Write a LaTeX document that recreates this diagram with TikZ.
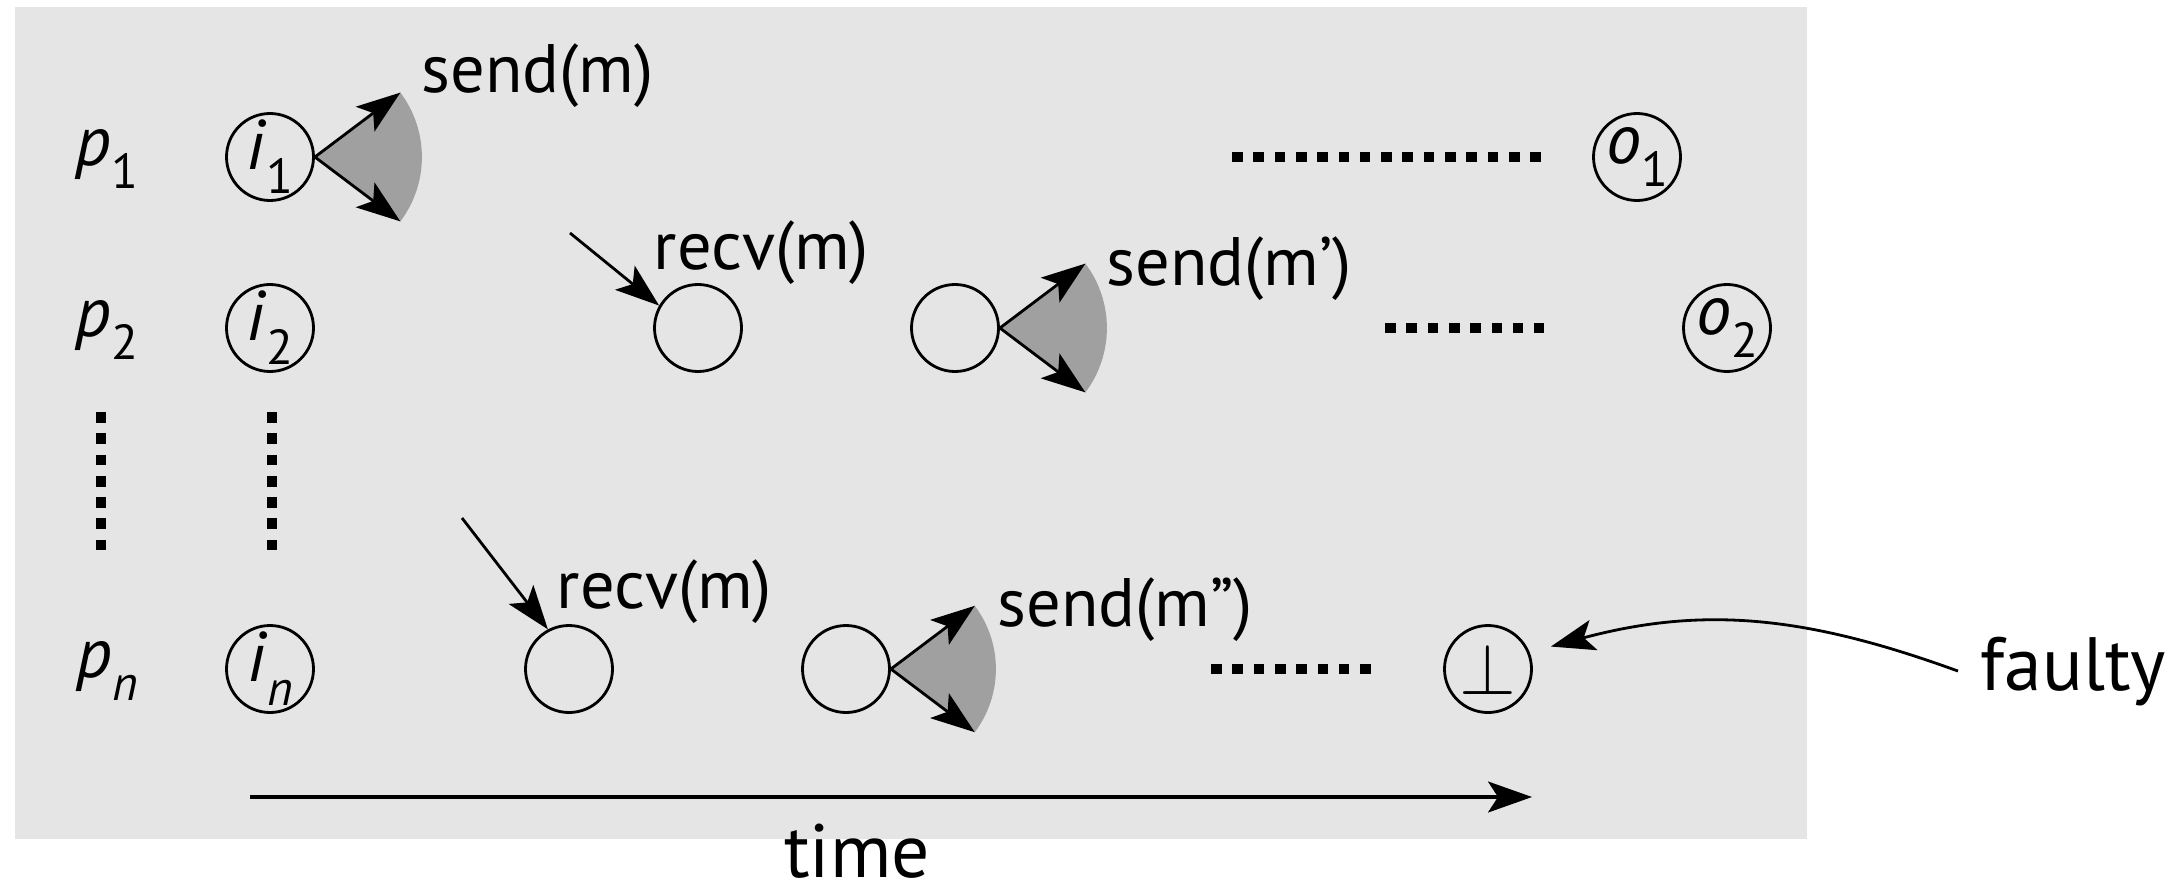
\documentclass[tikz,border=0pt]{standalone}
\usepackage{fontspec}
\setmainfont{PT Sans}
\usetikzlibrary{arrows.meta, positioning, calc}

\definecolor{panelgray}{HTML}{E5E5E5}
\definecolor{wedgegray}{HTML}{A0A0A0}

\newcommand{\procname}[2]{\textit{#1}\raisebox{-0.34em}{\fontsize{14}{14}\selectfont #2}}

\begin{document}
\begin{tikzpicture}[
    ev/.style={draw, circle, line width=0.8pt, minimum size=0.87cm, inner sep=0pt},
    evtext/.style={font=\fontsize{20}{22}\selectfont, inner sep=0pt},
    msg/.style={font=\fontsize{19.5}{22}\selectfont, anchor=base west, inner sep=0pt},
    big/.style={font=\fontsize{21.5}{24}\selectfont, inner sep=0pt},
    arr/.style={-{Stealth[length=0.44cm, width=0.31cm, inset=0.1cm]}, line width=0.8pt},
    dotline/.style={line width=3.1pt, dash pattern=on 3.03pt off 3.03pt},
    wedge/.style={fill=wedgegray}
]

% canvas and grey panel
\useasboundingbox (0,0) rectangle (21.79,-8.86);
\fill[panelgray] (0.15,-0.07) rectangle (18.07,-8.39);

% --- 1. PROCESS NAMES ---
\node[evtext] (p1) at (1.07,-1.59) {\procname{p}{1}};
\node[evtext] (p2) at (1.07,-3.30) {\procname{p}{2}};
\node[evtext] (pn) at (1.07,-6.71) {\procname{p}{\textit{n}}};

% --- 2. EVENTS ---
% inputs
\node[ev, label={[evtext]center:\procname{i}{1}}] (i1) at (2.70,-1.57) {};
\node[ev, label={[evtext]center:\procname{i}{2}}] (i2) at (2.70,-3.28) {};
\node[ev, label={[evtext]center:\procname{i}{\textit{n}}}] (in) at (2.70,-6.69) {};

% p2
\node[ev] (r2) at (6.98,-3.28) {};
\node[ev] (s2) at (9.55,-3.28) {};
% pn
\node[ev] (rn) at (5.69,-6.69) {};
\node[ev] (sn) at (8.46,-6.69) {};

% outputs
\node[ev, label={[evtext]center:\procname{o}{1}}] (o1) at (16.37,-1.57) {};
\node[ev, label={[evtext]center:\procname{o}{2}}] (o2) at (17.27,-3.28) {};
\node[ev, label={[evtext]center:{\fontsize{22}{22}\selectfont$\perp$}}] (bot) at (14.88,-6.69) {};

% --- 3. SENDS (grey wedge + two arrows) ---
\fill[wedge] (i1.east) -- ++(37:1.07) arc[start angle=37, end angle=-37, radius=1.07] -- cycle;
\draw[arr] (i1.east) -- ++(37:1.07) coordinate (i1up);
\draw[arr] (i1.east) -- ++(-37:1.07) coordinate (i1dn);
\node[msg] (sendm) at (4.21,-0.92) {send(m)};

\fill[wedge] (s2.east) -- ++(37:1.07) arc[start angle=37, end angle=-37, radius=1.07] -- cycle;
\draw[arr] (s2.east) -- ++(37:1.07) coordinate (s2up);
\draw[arr] (s2.east) -- ++(-37:1.07) coordinate (s2dn);
\node[msg] (sendm1) at (11.06,-2.85) {send(m’)};

\fill[wedge] (sn.east) -- ++(37:1.05) arc[start angle=37, end angle=-37, radius=1.05] -- cycle;
\draw[arr] (sn.east) -- ++(37:1.05) coordinate (snup);
\draw[arr] (sn.east) -- ++(-37:1.05) coordinate (sndn);
\node[msg] (sendm2) at (9.97,-6.26) {send(m”)};

% --- 4. RECEIVES ---
\coordinate (r2from) at (5.70,-2.33);
\draw[arr] (r2from) -- (r2.150);
\node[msg] (recv2) at (6.53,-2.69) {recv(m)};

\coordinate (rnfrom) at (4.62,-5.18);
\draw[arr] (rnfrom) -- (rn.118);
\node[msg] (recvn) at (5.56,-6.08) {recv(m)};

% --- 5. DOTS ---
\draw[dotline] (1.01,-4.12) -- (1.01,-5.54);
\draw[dotline] (2.72,-4.12) -- (2.72,-5.54);
\draw[dotline] (12.32,-1.57) -- (15.42,-1.57);
\draw[dotline] (13.85,-3.28) -- (15.44,-3.28);
\draw[dotline] (12.11,-6.69) -- (13.71,-6.69);

% --- 6. TIME AXIS ---
\coordinate (t0) at (2.50,-7.97);
\coordinate (t1) at (15.32,-7.97);
\draw[arr, line width=0.9pt] (t0) -- (t1);
\node[big, anchor=base] (time) at (8.57,-8.77) {time};

% --- 7. FAULTY ---
\node[big, anchor=base west, inner sep=0.22cm] (faulty) at (19.58,-6.90) {faulty};
\draw[arr] (faulty.west) to[out=160, in=15] ($(bot.30)+(0.24,0)$);

\end{tikzpicture}
\end{document}
